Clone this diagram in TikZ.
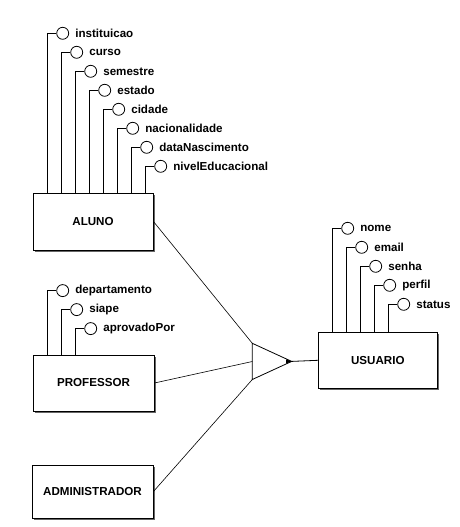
\documentclass[tikz,border=0pt]{standalone}
\usepackage{fontspec}
\setmainfont{Liberation Sans}
\begin{document}
\begin{tikzpicture}[x=1pt,y=-1pt,
  ent/.style={draw=black,fill=white,line width=0.9pt,inner sep=0pt,font=\bfseries\fontsize{11.6}{13}\selectfont},
  attc/.style={circle,draw=black,fill=white,line width=0.8pt,minimum size=12pt,inner sep=0pt},
  attt/.style={anchor=west,inner sep=0pt,font=\bfseries\fontsize{11.6}{13}\selectfont},
  conn/.style={draw=black,line width=0.8pt},
  shadowc/.style={fill=black!60}]
\useasboundingbox (0,0) rectangle (460,527);
\fill[white] (0,0) rectangle (460,527);

% shadows
\fill[shadowc] (35,195) rectangle (155,252);
\fill[shadowc] (35,357) rectangle (156,413);
\fill[shadowc] (34,467) rectangle (155,520);
\fill[shadowc] (320,334) rectangle (439,390);

% entities
\node[ent,minimum width=120pt,minimum height=57pt] (aluno) at (93,221.5) {ALUNO};
\node[ent,minimum width=121pt,minimum height=56pt] (prof) at (93.5,383) {PROFESSOR};
\node[ent,minimum width=121pt,minimum height=53pt] (admin) at (92.5,491.5) {ADMINISTRADOR};
\node[ent,minimum width=119pt,minimum height=56pt] (usu) at (377.8,360.3) {USUARIO};

% ALUNO attributes
\foreach \i/\t in {0/instituicao,1/curso,2/semestre,3/estado,4/cidade,5/nacionalidade,6/dataNascimento,7/nivelEducacional}{
  \node[attc] (al\i) at ({62.7+14*\i},{33.3+19*\i}) {};
  \node[attt] (alt\i) at ([xshift=6pt]al\i.east) {\t};
  \draw[conn] (al\i.west) -| ([xshift=-9pt]al\i.west |- aluno.north);
}
% PROFESSOR attributes
\foreach \i/\t in {0/departamento,1/siape,2/aprovadoPor}{
  \node[attc] (pr\i) at ({62.7+14*\i},{290.6+19*\i}) {};
  \node[attt] (prt\i) at ([xshift=6pt]pr\i.east) {\t};
  \draw[conn] (pr\i.west) -| ([xshift=-9pt]pr\i.west |- prof.north);
}
% USUARIO attributes
\foreach \i/\t in {0/nome,1/email,2/senha,3/perfil,4/status}{
  \node[attc] (us\i) at ({347.7+14*\i},{228.3+19*\i}) {};
  \node[attt] (ust\i) at ([xshift=6pt]us\i.east) {\t};
  \draw[conn] (us\i.west) -| ([xshift=-9pt]us\i.west |- usu.north);
}

% generalization triangle
\coordinate (ttop) at (252.3,343.3);
\coordinate (tmid) at (252.3,361.5);
\coordinate (tbot) at (252.3,379.5);
\coordinate (tip) at (291.7,361.4);
\draw[conn] (ttop) -- (tbot) -- (tip) -- cycle;
\fill[black] (286,359.3) -- (292,361.4) -- (286,363.5) -- cycle;
\draw[conn] (tip) -- (usu.west);
\draw[line width=0.6pt] (aluno.east) -- (ttop);
\draw[line width=0.6pt] (prof.east) -- (tmid);
\draw[line width=0.6pt] (admin.east) -- (tbot);
\end{tikzpicture}
\end{document}
